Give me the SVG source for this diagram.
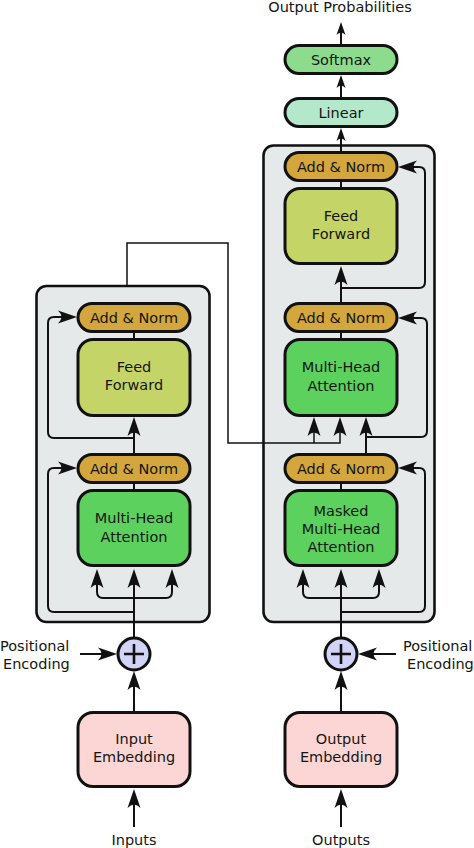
<svg xmlns="http://www.w3.org/2000/svg" width="474" height="848" viewBox="0 0 474 848">
<style>
text{font-family:"DejaVu Sans","Liberation Sans",sans-serif;font-size:14.5px;fill:#151515;text-anchor:middle}
.lbl{text-anchor:start}
.panel{fill:#e5e9ea;stroke:#111;stroke-width:2.6}
.box{stroke:#111;stroke-width:3}
.an{fill:#d3a63e}
.ff{fill:#c5d466}
.mha{fill:#5cd15e}
.emb{fill:#fcd6d4}
.lin{fill:#b3e8cb}
.sm{fill:#8ddc8d}
.add{fill:#d3d3f7;stroke:#111;stroke-width:3}
.plus{stroke:#111;stroke-width:2.6;fill:none}
.c{fill:none;stroke:#111;stroke-width:2}
.a{marker-end:url(#ah)}
.s{marker-end:url(#as)}
.thin{stroke-width:1.5}
</style>
<defs>
<marker id="ah" markerUnits="userSpaceOnUse" viewBox="-20 -7 21 14" refX="-4" refY="0" markerWidth="21" markerHeight="14" orient="auto">
<path d="M0,0 L-19,-6.5 Q-12,0 -19,6.5 Z" fill="#111"/>
</marker>
<marker id="as" markerUnits="userSpaceOnUse" viewBox="-14 -5 15 10" refX="-3" refY="0" markerWidth="15" markerHeight="10" orient="auto">
<path d="M0,0 L-13,-4.5 Q-8,0 -13,4.5 Z" fill="#111"/>
</marker>
</defs>

<g id="encoder-panel"><rect class="panel" x="36.5" y="286" width="173" height="336" rx="10"/></g>
<g id="decoder-panel"><rect class="panel" x="263.5" y="145.5" width="171" height="476.5" rx="10"/></g>

<g id="connectors">
<!-- encoder -->
<path class="c a" d="M134,827 V793"/>
<path class="c a" d="M134,711 V675"/>
<path class="c a" d="M80,654 H113"/>
<path class="c a" d="M134,637 V573"/>
<path class="c a" d="M134,598 H103 Q97,598 97,592 V573"/>
<path class="c a" d="M134,598 H166 Q172,598 172,592 V573"/>
<path class="c a" d="M134,612 H54 Q48,612 48,606 V474 Q48,468 54,468 H73"/>
<path class="c" d="M134,484 V490"/>
<path class="c a" d="M134,453 V421"/>
<path class="c a" d="M134,438 H54 Q48,438 48,432 V323 Q48,317 54,317 H73"/>
<path class="c" d="M134,333 V339"/>
<!-- encoder to decoder -->
<path class="c thin a" d="M127,286 V243 H228 V443 H340 V421"/>
<path class="c thin a" d="M314,443 V421"/>
<!-- decoder -->
<path class="c a" d="M341,827 V793"/>
<path class="c a" d="M341,711 V675"/>
<path class="c a" d="M396,654 H362"/>
<path class="c a" d="M341,637 V573"/>
<path class="c a" d="M341,598 H309 Q303,598 303,592 V573"/>
<path class="c a" d="M341,598 H373 Q379,598 379,592 V573"/>
<path class="c a" d="M341,612 H419 Q425,612 425,606 V474 Q425,468 419,468 H402"/>
<path class="c" d="M341,484 V491"/>
<path class="c a" d="M366,453 V421"/>
<path class="c a" d="M366,437 H421 Q427,437 427,431 V324 Q427,318 421,318 H402"/>
<path class="c" d="M341,333 V339"/>
<path class="c a" d="M341,302 V270"/>
<path class="c a" d="M341,288 H419 Q425,288 425,282 V173 Q425,167 419,167 H402"/>
<path class="c" d="M341,182 V188"/>
<path class="c s" d="M341,151 V131"/>
<path class="c s" d="M341,97 V78"/>
<path class="c s" d="M341,44 V25"/>
</g>

<g id="output-probabilities"><text x="340" y="12">Output Probabilities</text></g>
<g id="softmax"><rect class="box sm" x="285" y="45.5" width="112" height="28" rx="14"/><text x="341" y="65">Softmax</text></g>
<g id="linear"><rect class="box lin" x="285" y="98.5" width="112" height="28" rx="14"/><text x="341" y="118">Linear</text></g>

<g id="enc-addnorm-2"><rect class="box an" x="78" y="303.5" width="112" height="28" rx="14"/><text x="134" y="323">Add &amp; Norm</text></g>
<g id="enc-feedforward"><rect class="box ff" x="78" y="339.5" width="112" height="76" rx="15"/><text x="134" y="372">Feed</text><text x="134" y="390">Forward</text></g>
<g id="enc-addnorm-1"><rect class="box an" x="78" y="454.5" width="112" height="28" rx="14"/><text x="134" y="474">Add &amp; Norm</text></g>
<g id="enc-mha"><rect class="box mha" x="78" y="490.5" width="112" height="75" rx="15"/><text x="134" y="523">Multi-Head</text><text x="134" y="542">Attention</text></g>

<g id="dec-addnorm-3"><rect class="box an" x="285" y="152.5" width="112" height="28" rx="14"/><text x="341" y="172">Add &amp; Norm</text></g>
<g id="dec-feedforward"><rect class="box ff" x="285" y="188.5" width="112" height="75" rx="15"/><text x="341" y="221">Feed</text><text x="341" y="239">Forward</text></g>
<g id="dec-addnorm-2"><rect class="box an" x="285" y="303.5" width="112" height="28" rx="14"/><text x="341" y="323">Add &amp; Norm</text></g>
<g id="dec-mha"><rect class="box mha" x="285" y="339.5" width="112" height="76" rx="15"/><text x="341" y="372">Multi-Head</text><text x="341" y="391">Attention</text></g>
<g id="dec-addnorm-1"><rect class="box an" x="285" y="454.5" width="112" height="28" rx="14"/><text x="341" y="474">Add &amp; Norm</text></g>
<g id="dec-masked-mha"><rect class="box mha" x="285" y="490.5" width="112" height="75" rx="15"/><text x="341" y="516">Masked</text><text x="341" y="534">Multi-Head</text><text x="341" y="552">Attention</text></g>

<g id="enc-pos-add"><circle class="add" cx="134" cy="654" r="16"/><path class="plus" d="M124,654 H144 M134,644 V664"/></g>
<g id="dec-pos-add"><circle class="add" cx="341" cy="654" r="16"/><path class="plus" d="M331,654 H351 M341,644 V664"/></g>

<g id="enc-pos-label"><text class="lbl" x="0" y="651">Positional</text><text class="lbl" x="3" y="669">Encoding</text></g>
<g id="dec-pos-label"><text class="lbl" x="403" y="651">Positional</text><text class="lbl" x="407" y="669">Encoding</text></g>

<g id="input-embedding"><rect class="box emb" x="78" y="712.5" width="112" height="74" rx="15"/><text x="134" y="744">Input</text><text x="134" y="762">Embedding</text></g>
<g id="output-embedding"><rect class="box emb" x="285" y="712.5" width="112" height="74" rx="15"/><text x="341" y="744">Output</text><text x="341" y="762">Embedding</text></g>

<g id="inputs"><text x="134" y="845">Inputs</text></g>
<g id="outputs"><text x="341" y="845">Outputs</text></g>
</svg>
